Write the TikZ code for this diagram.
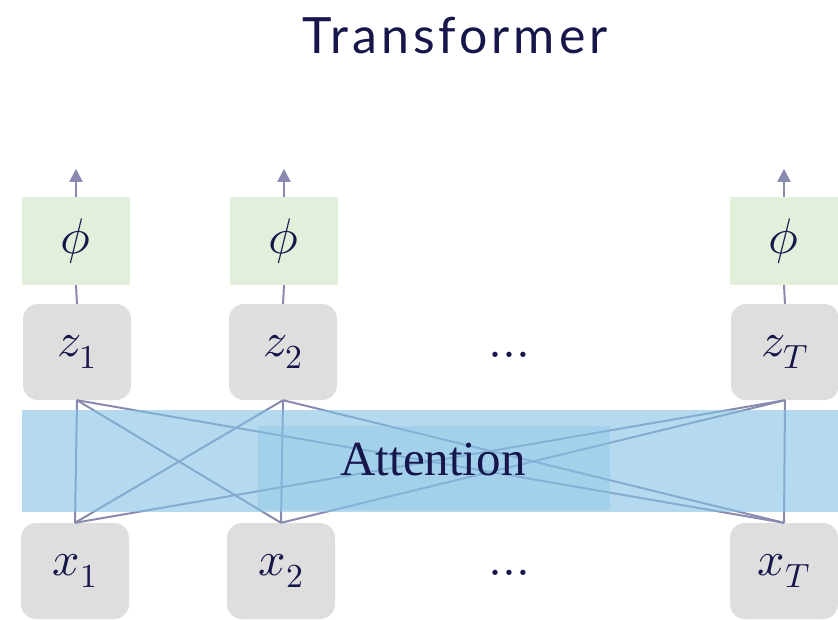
\documentclass[tikz,border=0pt]{standalone}
\usepackage{fontspec}
\usepackage{unicode-math}
\newfontfamily\titlefont[LetterSpace=8]{Lato}
\newfontfamily\bandfont{Liberation Serif}
\usetikzlibrary{arrows.meta,positioning}
\definecolor{ink}{RGB}{22,22,75}
\definecolor{headgreen}{RGB}{226,239,218}
\definecolor{tokgray}{RGB}{222,222,222}
\definecolor{bandblue}{RGB}{131,193,230}
\definecolor{linkgray}{RGB}{136,138,176}

\begin{document}
\begin{tikzpicture}[x=1pt,y=-1pt,
    tok/.style = {fill=tokgray, rounded corners=15pt, minimum width=108pt, minimum height=96pt, text=ink, font=\fontsize{48}{52}\selectfont},
    head/.style = {fill=headgreen, minimum width=108pt, minimum height=88pt, text=ink, font=\fontsize{50}{54}\selectfont},
    link/.style = {draw=linkgray, line width=2pt},
    band/.style = {fill=bandblue}]
    \useasboundingbox (0,0) rectangle (838,619);

    \node[font=\titlefont\fontsize{50}{56}\selectfont, text=ink] (title) at (455,36) {Transformer};

    % output heads
    \node[head] (p1) at (76,241) {$\phi$};
    \node[head] (p2) at (284,241) {$\phi$};
    \node[head] (p3) at (784,241) {$\phi$};
    \coordinate[above=28pt of p1] (o1);
    \coordinate[above=28pt of p2] (o2);
    \coordinate[above=28pt of p3] (o3);

    % token rows
    \node[tok] (z1) at (77,352) {$z_1$};
    \node[tok] (z2) at (283,352) {$z_2$};
    \node[tok] (zT) at (785,352) {$z_T$};
    \node[tok] (x1) at (75,571) {$x_1$};
    \node[tok] (x2) at (281,571) {$x_2$};
    \node[tok] (xT) at (784,571) {$x_T$};
    \node[text=ink, font=\fontsize{50}{54}\selectfont] (dz) at (514,355) {$\dots$};
    \node[text=ink, font=\fontsize{50}{54}\selectfont] (dx) at (514,573) {$\dots$};

    \foreach \i in {1,2,T}
      \foreach \j in {1,2,T}
        \draw[link] (z\i.south) -- (x\j.north);
    \foreach \k in {1,2,3}
      \draw[link, -{Triangle[width=13pt,length=13pt]}] (p\k.north) -- (o\k);
    \draw[link] (p1.south) -- (z1.north);
    \draw[link] (p2.south) -- (z2.north);
    \draw[link] (p3.south) -- (zT.north);

    % attention band
    \fill[band, fill opacity=0.6] (22,410) rectangle (838,512);
    \fill[band, fill opacity=0.35] (258,426) rectangle (610,510);
    \node[text=ink, font=\bandfont\fontsize{49}{54}\selectfont] (att) at (433,460) {Attention};
\end{tikzpicture}
\end{document}
